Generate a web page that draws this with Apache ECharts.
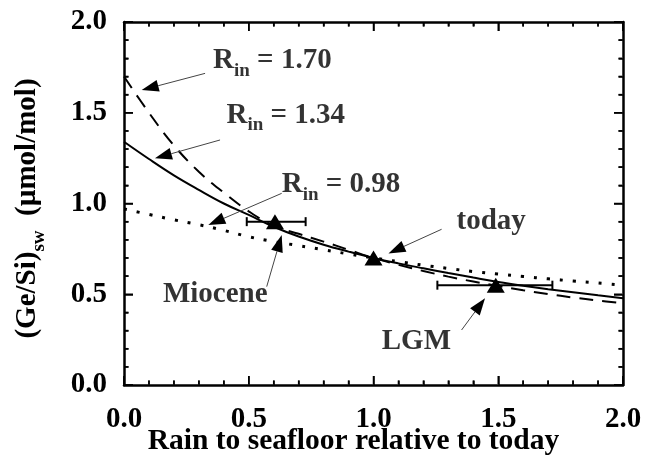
<!DOCTYPE html>
<html>
<head>
<meta charset="utf-8">
<script src="https://cdn.jsdelivr.net/npm/echarts@6/dist/echarts.min.js"></script>
<style>
html,body{margin:0;padding:0;background:#fff;}
#chart{width:653px;height:463px;}
</style>
</head>
<body>
<div id="chart"></div>
<script>
// ---- data ----
const xGrid = [0.0,0.1,0.2,0.3,0.4,0.5,0.6,0.7,0.8,0.9,1.0,1.1,1.2,1.3,1.4,1.5,1.6,1.7,1.8,1.9,2.0];
const rin134 = [1.34,1.245,1.155,1.075,1.0,0.937,0.872,0.818,0.773,0.735,0.70,0.670,0.643,0.617,0.592,0.568,0.547,0.528,0.511,0.494,0.478];
const rin170 = [1.70,1.50,1.32,1.175,1.06,0.957,0.877,0.833,0.79,0.745,0.70,0.662,0.628,0.597,0.570,0.545,0.522,0.501,0.482,0.465,0.450];
const rin098 = [0.97,0.94,0.91,0.883,0.852,0.817,0.79,0.768,0.745,0.722,0.70,0.68,0.66,0.642,0.625,0.611,0.598,0.585,0.573,0.562,0.55];

const pointNames = ['Miocene','today','LGM'];
const pointX = [0.605, 1.0, 1.49];
const pointY = [0.90, 0.70, 0.55];
const errLow = [0.492, null, 1.256];
const errHigh = [0.728, null, 1.717];

const xTickLabels = ['0.0','0.5','1.0','1.5','2.0'];
const yTickLabels = ['0.0','0.5','1.0','1.5','2.0'];
const tickValues = [0.0,0.1,0.2,0.3,0.4,0.5,0.6,0.7,0.8,0.9,1.0,1.1,1.2,1.3,1.4,1.5,1.6,1.7,1.8,1.9,2.0];

// annotation texts and arrows (data coordinates)
const noteTexts = ['{r|R}{s|in}{r| = 1.70}','{r|R}{s|in}{r| = 1.34}','{r|R}{s|in}{r| = 0.98}','{r|today}','{r|Miocene}','{r|LGM}'];
const noteX = [0.357, 0.411, 0.632, 1.333, 0.156, 1.033];
const noteY = [1.865, 1.567, 1.182, 0.978, 0.576, 0.3185];
const arrowFrom = [[0.325,1.717],[0.385,1.35],[0.632,1.056],[1.273,0.858],[0.572,0.542],[1.353,0.303]];
const arrowTo = [[0.071,1.625],[0.124,1.249],[0.338,0.8815],[1.06,0.725],[0.632,0.826],[1.447,0.478]];

// ---- chart ----
const FONT = '"Liberation Serif", "Times New Roman", serif';
const chart = echarts.init(document.getElementById('chart'));

function zip(xs, ys){ return xs.map((x,i)=>[x, ys[i]]); }

const tickFmt = (labels) => (v) => {
  const i = Math.round(v/0.5);
  return labels[i] !== undefined ? labels[i] : '';
};

function makeAxis(extra){
  const base = {
    type:'value', min:0, max:2, interval:0.5,
    axisLine:{show:true, onZero:false, lineStyle:{color:'#000', width:2.5}},
    axisTick:{show:true, inside:true, length:9, lineStyle:{color:'#000', width:1.5}},
    minorTick:{show:true, splitNumber:5, length:4.5, lineStyle:{color:'#000', width:1.5}},
    splitLine:{show:false}, minorSplitLine:{show:false}
  };
  return Object.assign(base, extra);
}
function labelStyle(extra){
  return Object.assign({fontFamily:FONT, fontWeight:'bold', fontSize:29, color:'#000'}, extra);
}

function tickChildren(api){
  const out = [];
  const st = {stroke:'#000', lineWidth:1.5};
  tickValues.forEach(function(v){
    const major = Math.abs(v/0.5 - Math.round(v/0.5)) < 1e-6;
    const len = major ? 9 : 4.5;
    const b = api.coord([v, 0]), t = api.coord([v, 2]);
    const l = api.coord([0, v]), r = api.coord([2, v]);
    out.push({type:'line', shape:{x1:b[0], y1:b[1]-1, x2:b[0], y2:b[1]-len}, style:st});
    out.push({type:'line', shape:{x1:t[0], y1:t[1]+1, x2:t[0], y2:t[1]+len}, style:st});
    out.push({type:'line', shape:{x1:l[0]+1, y1:l[1], x2:l[0]+len, y2:l[1]}, style:st});
    out.push({type:'line', shape:{x1:r[0]-1, y1:r[1], x2:r[0]-len, y2:r[1]}, style:st});
  });
  return out;
}

const option = {
  animation:false,
  grid:{left:124, right:30, top:22, bottom:78, outerBoundsMode:'none'},
  xAxis:[
    makeAxis({
      position:'bottom',
      axisLabel:labelStyle({margin:20, formatter:tickFmt(xTickLabels)}),
      name:'Rain to seafloor relative to today',
      nameLocation:'middle', nameGap:41, nameMoveOverlap:false,
      nameTextStyle:{fontFamily:FONT, fontWeight:'bold', fontSize:29.5, color:'#000', padding:[0,40,0,0]}
    }),
    makeAxis({position:'top', axisLabel:{show:false}})
  ],
  yAxis:[
    makeAxis({
      position:'left',
      axisLabel:labelStyle({margin:17, formatter:tickFmt(yTickLabels)}),
      name:'{m|(Ge/Si)}{sub|sw}{m|  (µmol/mol)}',
      nameLocation:'middle', nameGap:80, nameRotate:90, nameMoveOverlap:false,
      nameTextStyle:{
        padding:[0,10,0,0],
        rich:{
          m:{fontFamily:FONT, fontWeight:'bold', fontSize:29, color:'#000', lineHeight:31, verticalAlign:'top'},
          sub:{fontFamily:FONT, fontWeight:'bold', fontSize:19, color:'#000', lineHeight:19, verticalAlign:'top', padding:[17,0,0,0]}
        }
      }
    }),
    makeAxis({position:'right', axisLabel:{show:false}})
  ],
  series:[
    {
      name:'Rin=1.34', type:'line', xAxisIndex:0, yAxisIndex:0,
      data:zip(xGrid, rin134), smooth:0.4, showSymbol:false, symbol:'none',
      lineStyle:{color:'#000', width:2}, z:3
    },
    {
      name:'Rin=1.70', type:'line', xAxisIndex:0, yAxisIndex:0,
      data:zip(xGrid, rin170), smooth:0.4, showSymbol:false, symbol:'none',
      lineStyle:{color:'#000', width:2, type:[14,9]}, z:3
    },
    {
      name:'Rin=0.98', type:'line', xAxisIndex:0, yAxisIndex:0,
      data:zip(xGrid, rin098), smooth:0.4, showSymbol:false, symbol:'none',
      lineStyle:{color:'#000', width:3, type:[3,10]}, z:3
    },
    {
      name:'errorbars', type:'custom', xAxisIndex:0, yAxisIndex:0, clip:false,
      data: pointX.map((x,i)=> errLow[i]===null ? null : [errLow[i], pointY[i], errHigh[i]]).filter(d=>d),
      encode:{x:[0,2], y:1},
      renderItem:function(params, api){
        const a = api.coord([api.value(0), api.value(1)]);
        const b = api.coord([api.value(2), api.value(1)]);
        const st = {stroke:'#000', lineWidth:2};
        let children = [
          {type:'line', shape:{x1:a[0], y1:a[1], x2:b[0], y2:b[1]}, style:st},
          {type:'line', shape:{x1:a[0], y1:a[1]-4.5, x2:a[0], y2:a[1]+4.5}, style:st},
          {type:'line', shape:{x1:b[0], y1:b[1]-4.5, x2:b[0], y2:b[1]+4.5}, style:st}
        ];
        if (params.dataIndex === 0) children = children.concat(tickChildren(api));
        return {type:'group', children:children};
      }, z:4
    },
    {
      name:'points', type:'scatter', xAxisIndex:0, yAxisIndex:0,
      data: pointX.map((x,i)=>({name:pointNames[i], value:[x, pointY[i]]})),
      symbol:'triangle', symbolSize:[18,15],
      itemStyle:{color:'#000', opacity:1}, z:5
    },
    {
      name:'arrows', type:'custom', xAxisIndex:0, yAxisIndex:0, clip:false,
      data: arrowFrom.map((f,i)=>[f[0], f[1], arrowTo[i][0], arrowTo[i][1]]),
      encode:{x:[0,2], y:[1,3]},
      renderItem:function(params, api){
        const p1 = api.coord([api.value(0), api.value(1)]);
        const p2 = api.coord([api.value(2), api.value(3)]);
        const dx = p2[0]-p1[0], dy = p2[1]-p1[1];
        const L = Math.sqrt(dx*dx+dy*dy);
        const ux = dx/L, uy = dy/L;
        const nx = -uy, ny = ux;
        const hl = 17, hw = 6;
        const bx = p2[0]-ux*hl, by = p2[1]-uy*hl;
        return {type:'group', children:[
          {type:'line', shape:{x1:p1[0], y1:p1[1], x2:bx, y2:by}, style:{stroke:'#444', lineWidth:1}},
          {type:'polygon', shape:{points:[[p2[0],p2[1]],[bx+nx*hw, by+ny*hw],[bx-nx*hw, by-ny*hw]]}, style:{fill:'#000'}}
        ]};
      }, z:6
    },
    {
      name:'notes', type:'scatter', xAxisIndex:0, yAxisIndex:0,
      data: noteX.map((x,i)=>({value:[x, noteY[i]], label:{formatter:noteTexts[i]}})),
      symbolSize:0, silent:true,
      label:{
        show:true, position:'inside', align:'left', verticalAlign:'top',
        rich:{
          r:{fontFamily:FONT, fontWeight:'bold', fontSize:29, color:'#000', lineHeight:30, verticalAlign:'top'},
          s:{fontFamily:FONT, fontWeight:'bold', fontSize:19, color:'#000', lineHeight:19, verticalAlign:'top', padding:[15,0,0,0]}
        }
      }, z:7
    }
  ]
};
chart.setOption(option);
</script>
</body>
</html>
